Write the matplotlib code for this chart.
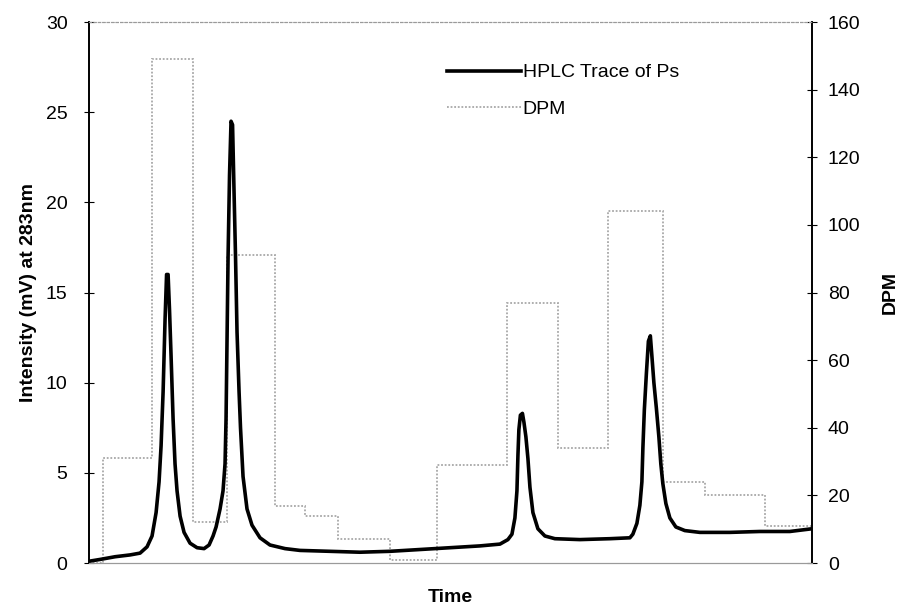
import matplotlib.pyplot as plt
from matplotlib.lines import Line2D

plt.rcParams['font.family'] = ['Liberation Sans', 'DejaVu Sans']

# HPLC trace (time in arbitrary units 0-100, intensity in mV)
time = [0, 1.52, 3.6, 5.67, 7.05, 8.02, 8.71, 9.27, 9.68, 9.96, 10.24, 10.51,
        10.72, 10.93, 11.13, 11.34, 11.62, 11.89, 12.17, 12.59, 13.14, 13.97,
        14.94, 15.91, 16.60, 17.15, 17.57, 18.12, 18.53, 18.81, 18.95, 19.09,
        19.23, 19.43, 19.64, 19.85, 20.06, 20.26, 20.47, 20.75, 20.95, 21.30,
        21.85, 22.54, 23.65, 25.03, 27.11, 29.18, 33.33, 37.48, 41.63, 45.78,
        49.93, 54.08, 56.85, 57.95, 58.51, 58.92, 59.20, 59.34, 59.47, 59.68,
        59.96, 60.17, 60.44, 60.72, 61.00, 61.41, 62.10, 63.07, 64.45, 67.91,
        72.06, 74.83, 75.24, 75.80, 76.21, 76.49, 76.63, 76.83, 77.11, 77.39,
        77.66, 77.87, 78.15, 78.49, 78.84, 79.11, 79.39, 79.81, 80.36, 81.19,
        82.43, 84.51, 88.66, 92.81, 96.96, 100]
intensity = [0.1, 0.2, 0.35, 0.45, 0.55, 0.9, 1.5, 2.8, 4.5, 6.5, 9.5, 13.5,
             16.0, 16.0, 14.0, 11.5, 8.0, 5.5, 4.0, 2.6, 1.7, 1.1,
             0.85, 0.8, 1.0, 1.5, 2.0, 3.0, 4.0, 5.5, 8.0, 12.5,
             17.0, 21.5, 24.5, 24.3, 20.5, 17.0, 12.8, 9.5, 7.5, 4.8,
             3.0, 2.1, 1.4, 1.0, 0.8, 0.7, 0.65, 0.6, 0.65, 0.75,
             0.85, 0.95, 1.05, 1.3, 1.6, 2.5, 4.0, 6.0, 7.4, 8.2,
             8.3, 7.8, 7.0, 5.8, 4.2, 2.8, 1.9, 1.5, 1.35, 1.3,
             1.35, 1.4, 1.6, 2.2, 3.2, 4.5, 6.4, 8.5, 10.5, 12.3,
             12.6, 11.5, 10.0, 8.6, 7.0, 5.5, 4.4, 3.3, 2.5, 2.0,
             1.8, 1.7, 1.7, 1.75, 1.75, 1.9]

# DPM per collected fraction
fraction_edges = [0, 1.9, 8.7, 14.4, 19.1, 25.7, 29.9, 34.4, 41.6, 48.1,
                  57.8, 64.9, 71.8, 79.4, 85.2, 93.5, 100]
dpm = [0, 31, 149, 12, 91, 17, 14, 7, 1, 29, 77, 34, 104, 24, 20, 11]

fig, ax = plt.subplots(figsize=(9, 6.12), dpi=100)
fig.subplots_adjust(left=0.099, right=0.902, top=0.964, bottom=0.080)
ax2 = ax.twinx()

ax2.stairs(dpm, fraction_edges, baseline=None, color='#a8a8a8',
           linestyle=(0, (1, 1)), linewidth=1.3)
line, = ax.plot(time, intensity, color='black', linewidth=2.6)

ax.set_zorder(ax2.get_zorder() + 1)
ax.patch.set_visible(False)

ax.set_xlim(0, 100)
ax.set_ylim(0, 30)
ax2.set_ylim(0, 160)
ax.set_yticks(range(0, 31, 5))
ax2.set_yticks(range(0, 161, 20))
ax.set_xticks([])

ax.tick_params(axis='y', labelsize=14, direction='inout', length=7,
               width=0.8, pad=12)
ax2.tick_params(axis='y', labelsize=14, direction='inout', length=7,
                width=0.8, pad=8)
for a in (ax, ax2):
    a.spines['top'].set_color('#9a9a9a')
    a.spines['top'].set_linestyle((0, (2, 2)))
    a.spines['bottom'].set_color('#9a9a9a')
    a.spines['left'].set_linewidth(1.2)
    a.spines['right'].set_linewidth(1.2)

ax.set_ylabel('Intensity (mV) at 283nm', fontsize=14, fontweight='bold', labelpad=6)
ax2.set_ylabel('DPM', fontsize=14, fontweight='bold', labelpad=15)
ax.set_xlabel('Time', fontsize=14, fontweight='bold', labelpad=19)

handles = [Line2D([], [], color='black', linewidth=2.6),
           Line2D([], [], color='#a8a8a8', linestyle=(0, (1, 1)), linewidth=1.3)]
ax.legend(handles, ['HPLC Trace of Ps', 'DPM'], loc='upper left',
          bbox_to_anchor=(0.471, 0.955), frameon=False, fontsize=14,
          handlelength=3.8, handletextpad=0.1, labelspacing=0.95)

plt.savefig('out.png')
